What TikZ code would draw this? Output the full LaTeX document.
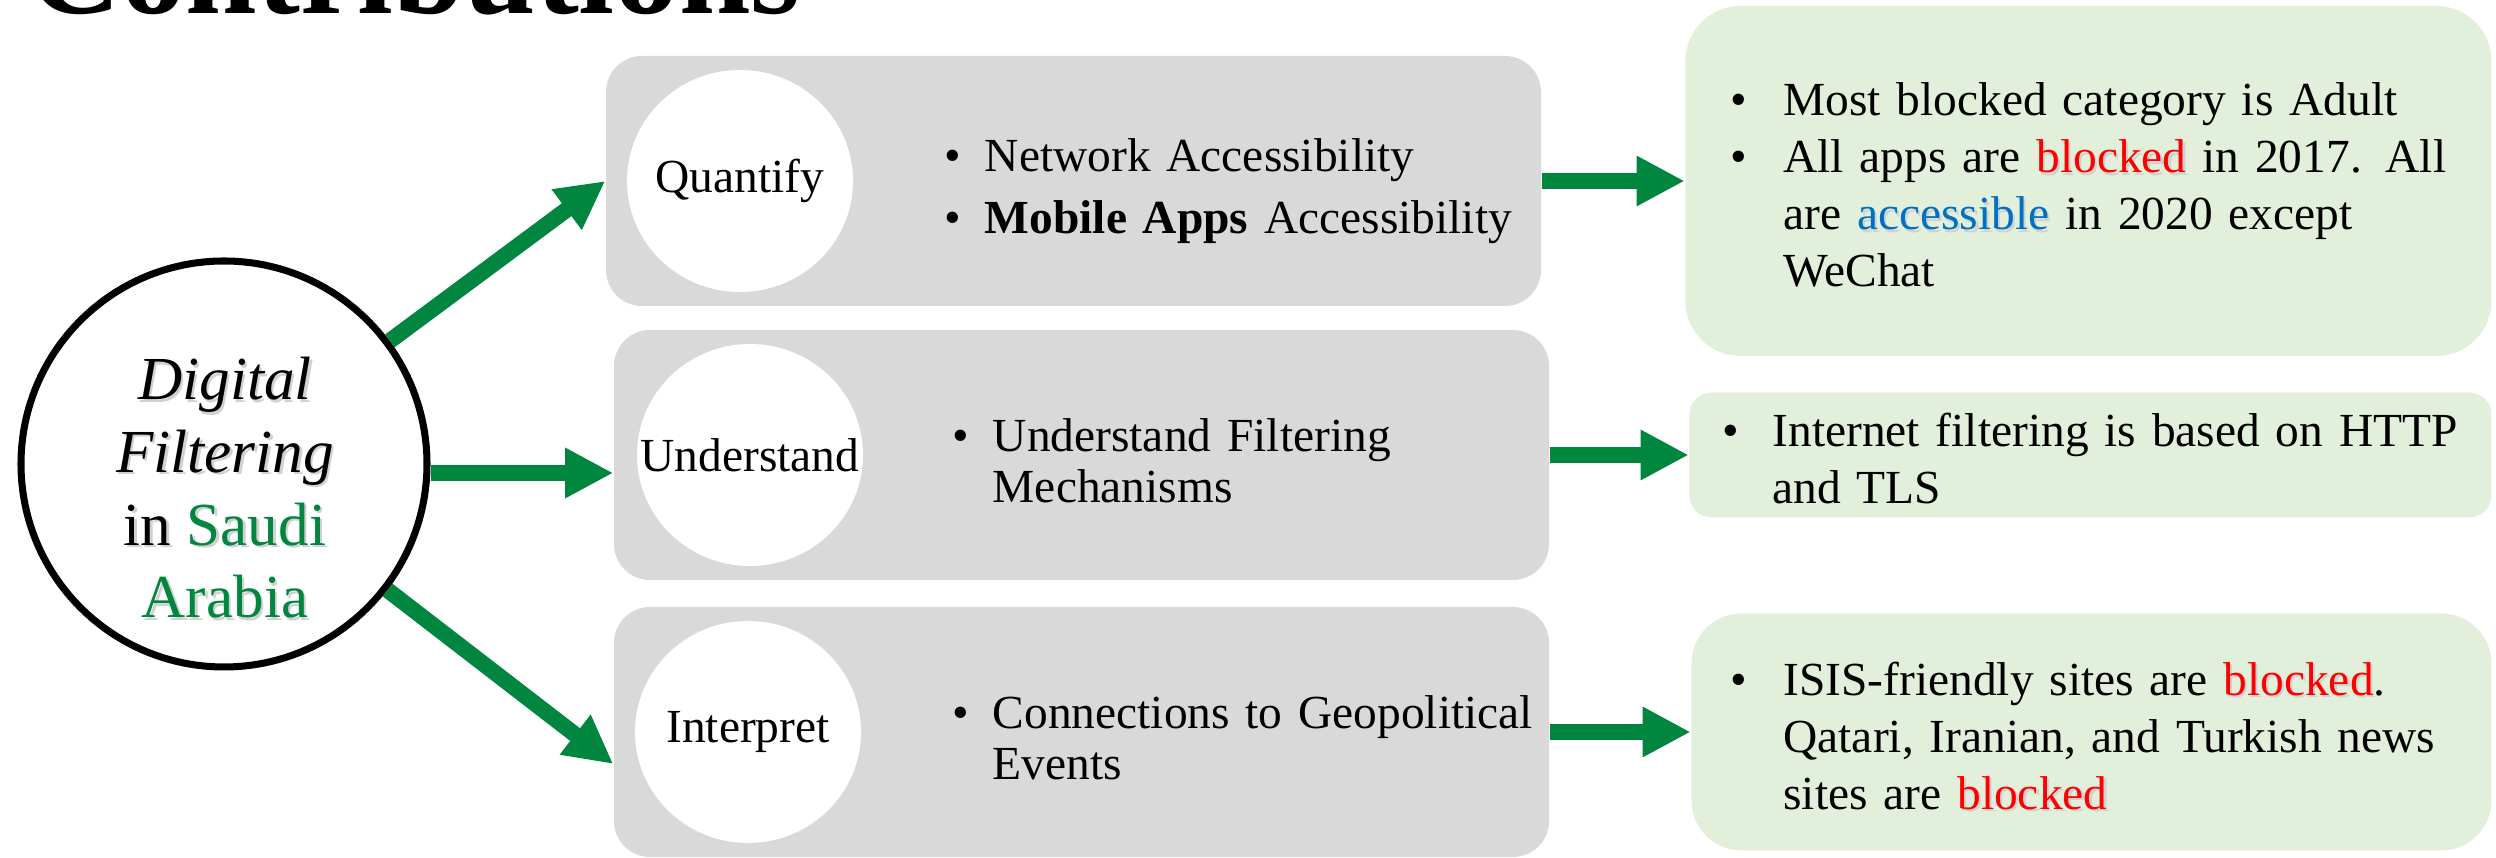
\documentclass[tikz,border=0pt]{standalone}
\usepackage{fontspec}
\setmainfont{Liberation Serif}
\usetikzlibrary{arrows.meta,positioning,shapes.geometric}
\definecolor{boxgray}{HTML}{D9D9D9}
\definecolor{boxgreen}{HTML}{E2EFDA}
\definecolor{arrgreen}{RGB}{0,134,62}
\definecolor{hlred}{HTML}{FF0000}
\definecolor{hlblue}{HTML}{0070C0}
% text with a soft drop shadow
\newcommand{\shd}[2][black]{\makebox[0pt][l]{\kern0.7pt\raisebox{-0.7pt}{\textcolor{black!18}{#2}}}\textcolor{#1}{#2}}
% one bullet point with hanging indent
\newcommand{\bpt}[2]{\noindent\hangindent=#1\hangafter=1\makebox[#1][l]{\textbullet}#2\par}
\tikzset{%
  >={Triangle[length=13.7pt,width=13.4pt]},
  % Specifications for style of nodes:
     goal/.style = {circle, draw=black, line width=2pt,
                    minimum size=4.06cm, inner sep=0pt},
     task/.style = {rectangle, rounded corners=0.36cm, fill=boxgray,
                    minimum width=9.35cm, minimum height=2.5cm, inner sep=0pt},
     hole/.style = {ellipse, fill=white, minimum width=2.26cm,
                    minimum height=2.22cm, inner sep=0pt},
  finding/.style = {rectangle, fill=boxgreen, inner sep=0pt},
   points/.style = {inner sep=0pt, align=left, anchor=west},
     flow/.style = {->, draw=arrgreen, line width=4.55pt},
}
\begin{document}
\begin{tikzpicture}[every node/.style={font=\fontsize{13.5}{14.5}\selectfont}]
  \useasboundingbox (0,0) rectangle (24.96,8.58);
  % Title, cut by the top edge
  \node (title) [anchor=base west, inner sep=0pt,
    font=\fontsize{36.6}{40}\selectfont\bfseries] at (0.28,8.44) {Contributions};
  % Central topic
  \node (dfsa) [goal] at (2.24,3.94) {};
  \node (dfsaT) [align=center, font=\fontsize{17.4}{20.7}\selectfont] at (2.25,3.69)
    {\shd{\textit{Digital}}\\\shd{\textit{Filtering}}\\\shd{in} \shd[arrgreen]{Saudi}\\\shd[arrgreen]{Arabia}};
  % Specification of the three steps
  \node (quant) [task] at (10.735,6.77) {};
  \node (und)   [task] at (10.815,4.03) {};
  \node (intp)  [task] at (10.815,1.26) {};
  \node (quantE) [hole, right=0.21cm of quant.west] {};
  \node (undE)   [hole, right=0.23cm of und.west] {};
  \node (intpE)  [hole, right=0.21cm of intp.west] {};
  \node (quantL) at (quantE) {Quantify};
  \node (undL)   at (undE)   {Understand};
  \node (intpL)  at (intpE)  {Interpret};
  \node (quantP) [points, text width=6.2cm] at (9.44,6.665)
    {\bpt{11.4pt}{Network Accessibility}\vspace{3.2pt}\bpt{11.4pt}{\textbf{Mobile Apps} Accessibility}};
  \node (undP)   [points, text width=6.2cm] at (9.52,3.97)
    {\bpt{11.4pt}{Understand Filtering\newline Mechanisms}};
  \node (intpP)  [points, text width=6.2cm] at (9.52,1.20)
    {\bpt{11.4pt}{Connections to Geopolitical\newline Events}};
  % Specification of the findings
  \node (quantR) [finding, rounded corners=0.55cm, minimum width=8.06cm,
    minimum height=3.5cm, right=1.43cm of quant] {};
  \node (undR)   [finding, rounded corners=0.22cm, minimum width=8.02cm,
    minimum height=1.25cm, right=1.39cm of und] {};
  \node (intpR)  [finding, rounded corners=0.5cm, minimum width=8.0cm,
    minimum height=2.37cm, right=1.41cm of intp] {};
  \node (quantF) [points, text width=7.65cm, font=\fontsize{13.5}{16.2}\selectfont] at (17.30,6.73)
    {\bpt{15pt}{Most blocked category is Adult}\bpt{15pt}{All apps are \shd[hlred]{blocked} in 2017. All\newline are \shd[hlblue]{accessible} in 2020 except\newline WeChat}};
  \node (undF)   [points, text width=7.65cm, font=\fontsize{13.5}{16.2}\selectfont] at (17.22,3.995)
    {\bpt{14.2pt}{Internet filtering is based on HTTP\newline and TLS}};
  \node (intpF)  [points, text width=7.65cm, font=\fontsize{13.5}{16.2}\selectfont] at (17.30,1.21)
    {\bpt{15pt}{ISIS-friendly sites are \shd[hlred]{blocked}.\newline Qatari, Iranian, and Turkish news\newline sites are \shd[hlred]{blocked}}};
  % Specification of arrows between nodes
  \draw[flow] (dfsa) -- (quant.west);
  \draw[flow] ([yshift=-0.09cm]dfsa.east) -- ([yshift=-0.09cm]dfsa.east -| und.west);
  \draw[flow] (dfsa) -- ([yshift=-0.32cm]intp.west);
  \draw[flow] (quant.east) -- (quant.east -| quantR.west);
  \draw[flow] (und.east) -- (und.east -| undR.west);
  \draw[flow] (intp.east) -- (intp.east -| intpR.west);
\end{tikzpicture}
\end{document}
